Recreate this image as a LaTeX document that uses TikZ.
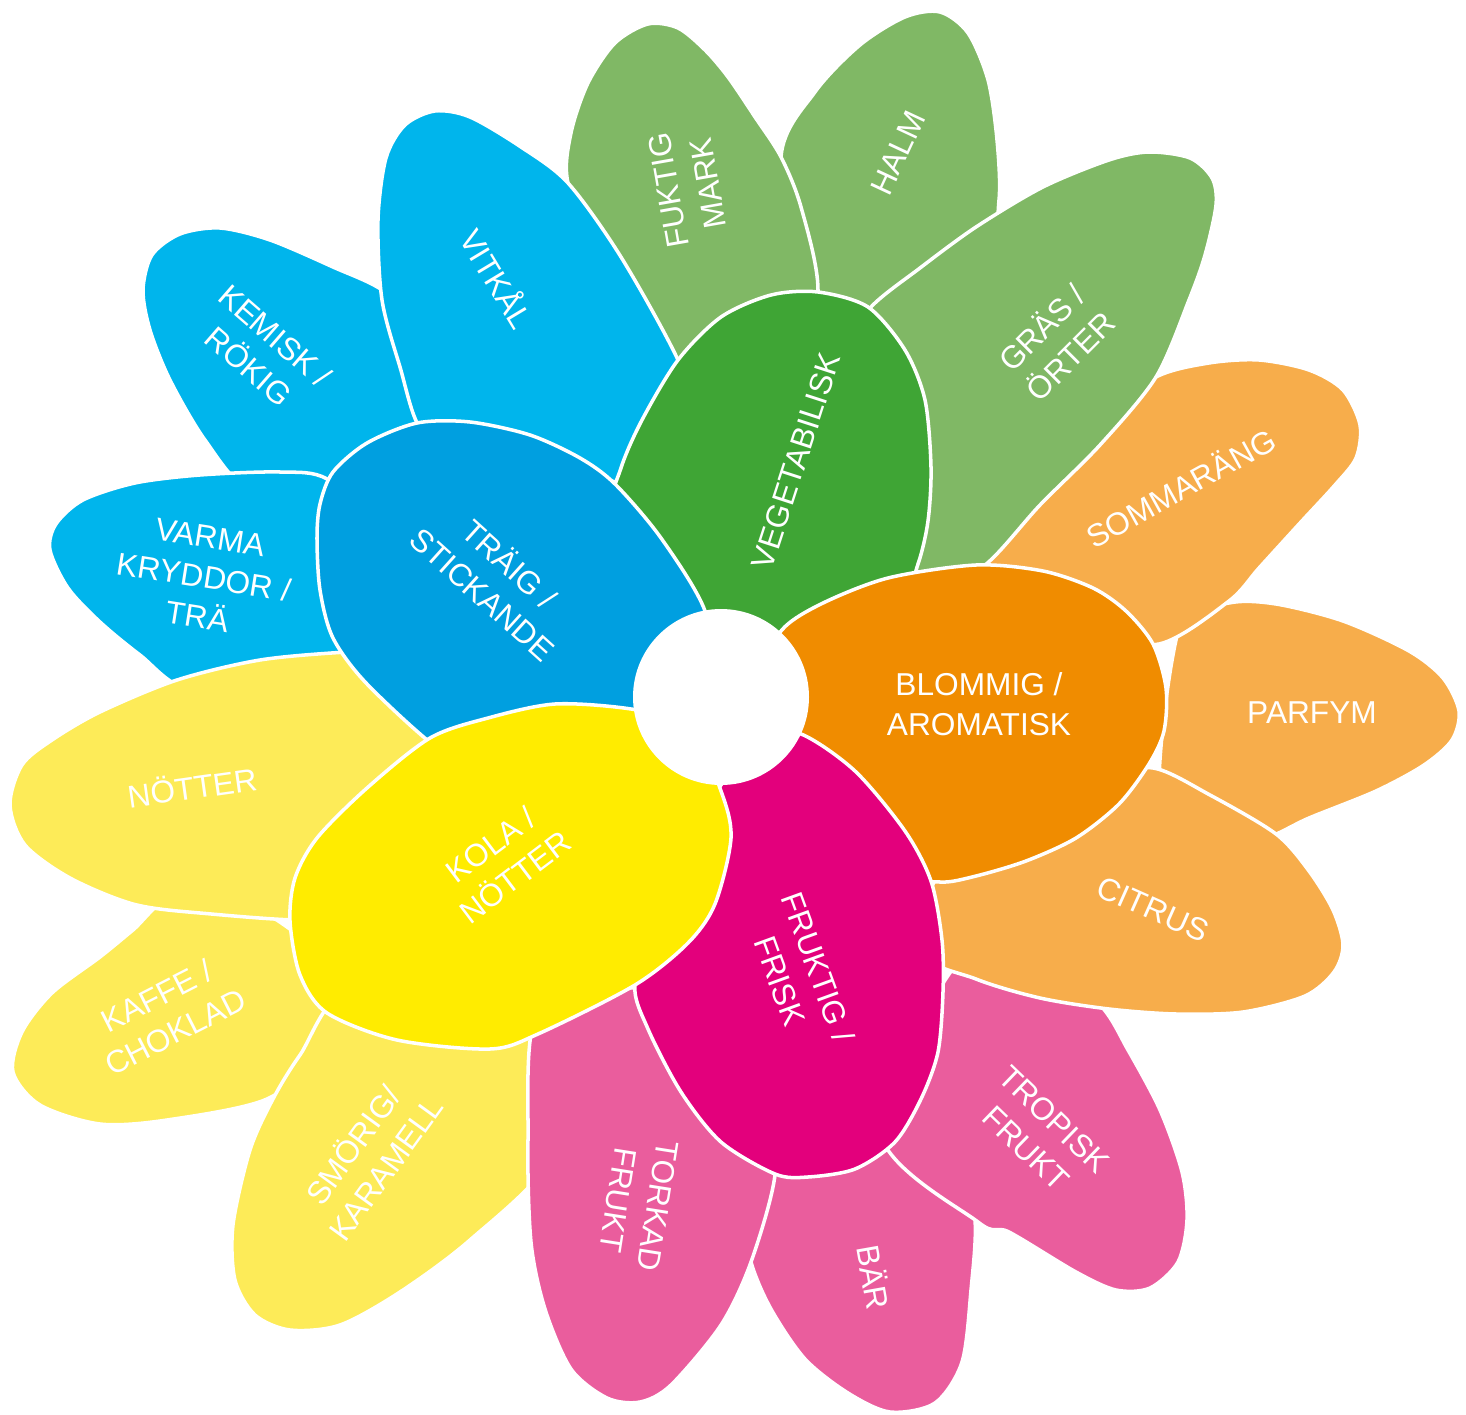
\documentclass[tikz,border=0pt]{standalone}
\usepackage{fontspec}
\setmainfont{Liberation Sans}
\definecolor{gL}{HTML}{80B865}
\definecolor{gD}{HTML}{3FA535}
\definecolor{oL}{HTML}{F7AD4B}
\definecolor{oD}{HTML}{F08C00}
\definecolor{pL}{HTML}{EA5D9D}
\definecolor{pD}{HTML}{E3007C}
\definecolor{yL}{HTML}{FDEB58}
\definecolor{yD}{HTML}{FFEC00}
\definecolor{bL}{HTML}{00B5EC}
\definecolor{bD}{HTML}{009FE0}
\begin{document}
\begin{tikzpicture}[x=0.01cm,y=-0.01cm,
  petal/.style={draw=white,line width=1pt,line join=round},
  lbl/.style={text=white,font=\fontsize{9}{11.5}\selectfont,align=center,inner sep=0pt}]
\useasboundingbox (0,0) rectangle (1466,1415);
% ---------- outer petals (bottom to top) ----------
% HALM
\path[petal,fill=gL] plot[smooth cycle] coordinates {(781,157) (815,92) (860,45) (905,17) (940,12) (968,33) (988,80) (997,140) (999,200) (985,260) (900,330) (800,300)};
% KEMISK
\path[petal,fill=bL] plot[smooth cycle] coordinates {(143,290) (152,255) (180,234) (220,228) (270,240) (333,267) (385,292) (430,340) (420,450) (330,490) (250,490) (205,440) (170,380) (150,330)};
% KAFFE
\path[petal,fill=yL] plot[smooth cycle] coordinates {(13,1072) (22,1032) (52,993) (100,957) (133,930) (175,895) (250,905) (320,960) (320,1050) (267,1099) (167,1120) (100,1124) (40,1105)};
% BAR
\path[petal,fill=pL] plot[smooth cycle] coordinates {(740,1200) (751,1262) (771,1309) (805,1359) (848,1393) (890,1412) (935,1403) (962,1362) (971,1290) (975,1220) (960,1150) (880,1120)};
% PARFYM
\path[petal,fill=oL] plot[smooth cycle] coordinates {(1180,625) (1229,603) (1276,604) (1343,621) (1409,651) (1443,678) (1459,711) (1452,740) (1424,765) (1376,791) (1309,818) (1265,838) (1215,840) (1160,800)};
% FUKTIG MARK
\path[petal,fill=gL] plot[smooth cycle] coordinates {(568,183) (571,133) (588,83) (615,43) (648,24) (678,28) (705,50) (728,77) (755,117) (781,157) (801,207) (818,290) (800,380) (700,380) (600,260)};
% VARMA
\path[petal,fill=bL] plot[smooth cycle] coordinates {(50,550) (56,524) (83,500) (135,483) (200,475) (280,472) (327,479) (380,530) (380,640) (300,690) (190,690) (140,655) (100,622) (68,588)};
% SMORIG
\path[petal,fill=yL] plot[smooth cycle] coordinates {(350,990) (300,1055) (273,1099) (250,1150) (233,1225) (235,1280) (255,1315) (290,1330) (340,1325) (400,1292) (470,1240) (550,1160) (560,1060) (480,1020)};
% TROPISK
\path[petal,fill=pL] plot[smooth cycle] coordinates {(880,1130) (978,1222) (1009,1232) (1076,1272) (1116,1290) (1150,1288) (1178,1262) (1187,1220) (1182,1172) (1160,1110) (1128,1050) (1100,1005) (1040,960) (960,960)};
% SOMMARANG
\path[petal,fill=oL] plot[smooth cycle] coordinates {(1020,490) (1100,420) (1156,377) (1209,363) (1259,360) (1309,370) (1343,390) (1360,425) (1356,458) (1335,485) (1300,523) (1259,568) (1229,601) (1159,644) (1080,630) (965,585)};
% VITKAL
\path[petal,fill=bL] plot[smooth cycle] coordinates {(420,428) (400,367) (382,300) (378,220) (386,158) (405,125) (435,111) (470,117) (521,147) (568,183) (621,257) (678,360) (700,430) (660,485) (560,470) (460,450)};
% NOTTER
\path[petal,fill=yL] plot[smooth cycle] coordinates {(10,805) (22,765) (52,740) (100,712) (177,680) (260,660) (347,652) (420,650) (440,760) (400,900) (320,920) (200,913) (133,904) (70,878) (25,845)};
% TORKAD
\path[petal,fill=pL] plot[smooth cycle] coordinates {(600,990) (535,1020) (528,1140) (531,1242) (545,1309) (571,1369) (607,1398) (640,1402) (671,1385) (721,1325) (751,1262) (775,1175) (770,1100) (690,1000)};
% CITRUS
\path[petal,fill=oL] plot[smooth cycle] coordinates {(1100,780) (1153,768) (1210,795) (1276,834) (1309,871) (1333,910) (1343,945) (1334,972) (1305,996) (1243,1012) (1176,1014) (1109,1009) (1040,998) (976,979) (920,950) (950,860)};
% GRAS
\path[petal,fill=gL] plot[smooth cycle] coordinates {(871,307) (920,268) (976,227) (1043,187) (1109,160) (1149,152) (1190,158) (1212,178) (1216,205) (1205,255) (1189,300) (1156,377) (1100,445) (1040,505) (985,565) (930,590) (860,480) (845,350)};
% ---------- inner petals ----------
% VEGETABILISK
\path[petal,fill=gD] plot[smooth cycle] coordinates {(612,515) (621,468) (642,420) (678,360) (721,317) (771,295) (818,292) (868,307) (905,350) (925,400) (931,467) (928,521) (918,564) (900,600) (820,650) (720,650) (650,600)};
% TRAIG
\path[petal,fill=bD] plot[smooth cycle] coordinates {(317,538) (320,504) (333,472) (367,443) (417,423) (470,422) (530,435) (580,458) (615,484) (661,538) (705,611) (710,680) (640,740) (480,760) (440,750) (367,684) (333,638) (320,590)};
% BLOMMIG
\path[petal,fill=oD] plot[smooth cycle] coordinates {(781,631) (821,604) (888,578) (976,565) (1043,571) (1093,588) (1126,611) (1153,644) (1166,688) (1164,731) (1149,764) (1119,804) (1076,838) (1026,861) (976,876) (940,882) (900,870) (800,770) (760,680)};
% FRUKTIG
\path[petal,fill=pD] plot[smooth cycle] coordinates {(760,735) (801,734) (855,771) (905,831) (931,881) (942,940) (943,992) (938,1052) (921,1099) (895,1142) (855,1169) (808,1177) (775,1174) (721,1142) (681,1092) (648,1029) (635,985) (660,930) (700,820)};
% KOLA
\path[petal,fill=yD] plot[smooth cycle] coordinates {(290,921) (295,878) (317,838) (367,788) (430,738) (488,718) (555,704) (631,709) (690,725) (721,791) (731,838) (715,904) (688,943) (635,985) (538,1034) (490,1049) (397,1040) (327,1013) (300,975)};
% centre
\fill[white] (721,697) circle[radius=88];
% ---------- labels ----------
\node[lbl,rotate=72] (veg) at (796,461) {VEGETABILISK};
\node[lbl,rotate=-42] (tra) at (497,578) {TRÄIG /\\STICKANDE};
\node[lbl] (blo) at (979,704) {BLOMMIG /\\AROMATISK};
\node[lbl,rotate=-70] (fru) at (799,974) {FRUKTIG /\\FRISK};
\node[lbl,rotate=37] (kol) at (503,861) {KOLA /\\NÖTTER};
\node[lbl,rotate=100] (fuk) at (688,187) {FUKTIG\\MARK};
\node[lbl,rotate=65] (hal) at (898,153) {HALM};
\node[lbl,rotate=45] (gra) at (1055,341) {GRÄS /\\ÖRTER};
\node[lbl,rotate=29] (som) at (1180,487) {SOMMARÄNG};
\node[lbl] (par) at (1312,713) {PARFYM};
\node[lbl,rotate=-24] (cit) at (1153,909) {CITRUS};
\node[lbl,rotate=-44] (tro) at (1040,1134) {TROPISK\\FRUKT};
\node[lbl,rotate=-80] (bar) at (875,1277) {BÄR};
\node[lbl,rotate=-99] (tor) at (638,1203) {TORKAD\\FRUKT};
\node[lbl,rotate=54] (smo) at (368,1156) {SMÖRIG/\\KARAMELL};
\node[lbl,rotate=27] (kaf) at (166,1014) {KAFFE /\\CHOKLAD};
\node[lbl,rotate=8] (not) at (192,786) {NÖTTER};
\node[lbl,rotate=-9] (var) at (204,577) {VARMA\\KRYDDOR /\\TRÄ};
\node[lbl,rotate=-41] (kem) at (262,351) {KEMISK /\\RÖKIG};
\node[lbl,rotate=-59] (vit) at (498,278) {VITKÅL};
\end{tikzpicture}
\end{document}
